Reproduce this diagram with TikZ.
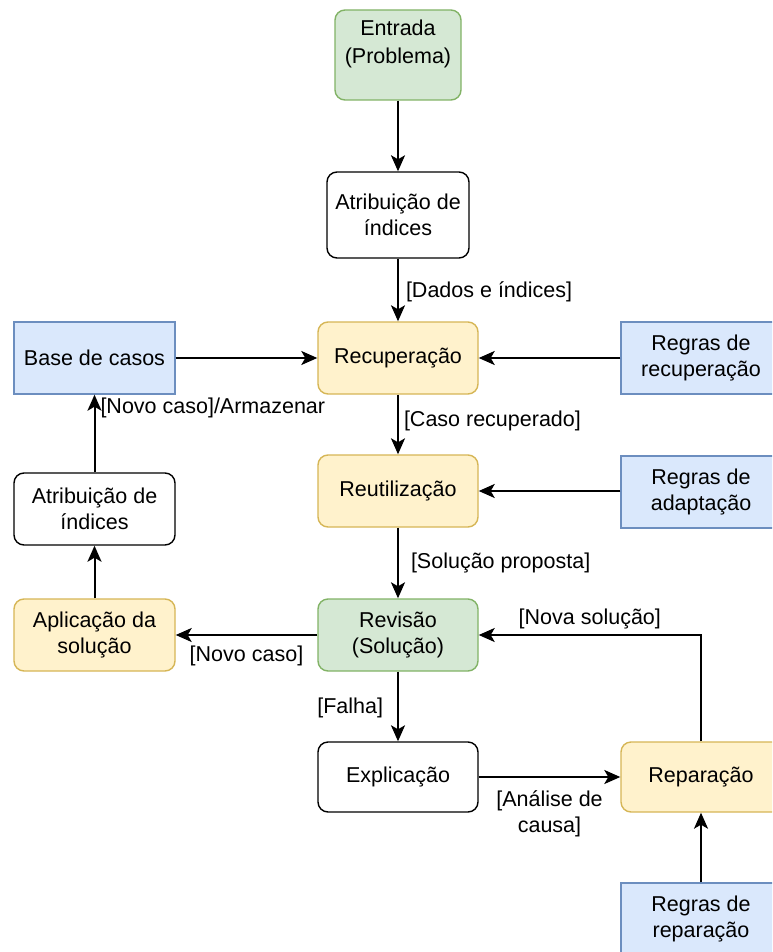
\documentclass[tikz,border=0pt]{standalone}
\usepackage{fontspec}
\setmainfont{Liberation Sans}
\usetikzlibrary{arrows.meta}

\definecolor{gfill}{HTML}{D5E8D4}
\definecolor{gline}{HTML}{82B366}
\definecolor{yfill}{HTML}{FFF2CC}
\definecolor{yline}{HTML}{D6B656}
\definecolor{bfill}{HTML}{DAE8FC}
\definecolor{bline}{HTML}{6C8EBF}
\newcommand\dgfont{\fontsize{21.5}{26}\selectfont}

\tikzset{
  box/.style={draw, line width=1.4pt, minimum width=160pt, minimum height=72pt,
    align=center, font=\dgfont, inner sep=0pt},
  rbox/.style={box, rounded corners=10pt},
  greenbox/.style={rbox, fill=gfill, draw=gline},
  yellowbox/.style={rbox, fill=yfill, draw=yline},
  whitebox/.style={rbox, fill=white, draw=black},
  bluebox/.style={box, fill=bfill, draw=bline},
  % boxes running past the right edge of the page
  edgebox/.style={minimum width=190pt, xshift=15pt},
  arr/.style={line width=2pt, -{Stealth[length=16pt,width=14pt,inset=4pt]}},
  lbl/.style={font=\dgfont, align=center, inner sep=0pt},
}

\begin{document}
\begin{tikzpicture}[x=1pt,y=-1pt]
\path[use as bounding box, fill=white] (0,0) rectangle (772,952);
\clip (0,0) rectangle (772,952);

% process boxes
\node[greenbox, minimum width=126pt, minimum height=90pt] (ent) at (398,55) {};
\node[lbl, font=\fontsize{21.5}{28}\selectfont] (entlabel) at (398,44) {Entrada\\(Problema)};
\node[whitebox, minimum width=142pt, minimum height=86pt] (atr1) at (398,215) {Atribuição de\\índices};
\node[yellowbox] (rec) at (398,358) {Recuperação};
\node[yellowbox] (reu) at (398,491) {Reutilização};
\node[greenbox] (rev) at (398,635) {Revisão\\(Solução)};
\node[whitebox, minimum height=70pt] (exp) at (398,777) {Explicação};
\node[yellowbox, edgebox, minimum height=70pt] (rep) at (701,777) {};
\node[lbl] (replabel) at (701,777) {Reparação};

% left column
\node[bluebox, minimum width=161pt] (base) at (94.5,358) {Base de casos};
\node[whitebox, minimum width=161pt] (atr2) at (94.5,509) {Atribuição de\\índices};
\node[yellowbox, minimum width=161pt] (apl) at (94.5,635) {Aplicação da\\solução};

% rule bases on the right
\node[bluebox, edgebox] (rrec) at (701,358) {};
\node[lbl] (rreclabel) at (701,358) {Regras de\\recuperação};
\node[bluebox, edgebox] (radp) at (701,492) {};
\node[lbl] (radplabel) at (701,492) {Regras de\\adaptação};
\node[bluebox, edgebox] (rrep) at (701,919) {};
\node[lbl] (rreplabel) at (701,919) {Regras de\\reparação};

% connectors
\draw[arr] (ent) -- (atr1);
\draw[arr] (atr1) -- node[lbl, anchor=west, xshift=7pt, yshift=-2pt] (l1) {[Dados e índices]} (rec);
\draw[arr] (base) -- (rec);
\draw[arr] (rrec.west) -- (rec);
\draw[arr] (rec) -- node[lbl, anchor=west, xshift=5pt, yshift=4pt] (l2) {[Caso recuperado]} (reu);
\draw[arr] (radp.west |- reu.east) -- (reu);
\draw[arr] (reu) -- node[lbl, anchor=west, xshift=12pt] (l3) {[Solução proposta]} (rev);
\draw[arr] (rev) -- node[lbl, anchor=north, yshift=-10pt] (l4) {[Novo caso]} (apl);
\draw[arr] (apl) -- (atr2);
\draw[arr] (atr2) -- node[lbl, anchor=west, pos=0.84, xshift=5pt, yshift=-1pt] (l5) {[Novo caso]/Armazenar} (base);
\draw[arr] (rev) -- node[lbl, anchor=east, xshift=-14pt, yshift=-1pt] (l6) {[Falha]} (exp);
\draw[arr] (exp) -- node[lbl, anchor=north, yshift=-13pt] (l7) {[Análise de\\causa]} (rep.west);
\draw[arr] (replabel |- rep.north) |- node[lbl, pos=0.75, anchor=south, yshift=5pt] (l8) {[Nova solução]} (rev.east);
\draw[arr] (replabel |- rrep.north) -- (replabel |- rep.south);
\end{tikzpicture}
\end{document}
